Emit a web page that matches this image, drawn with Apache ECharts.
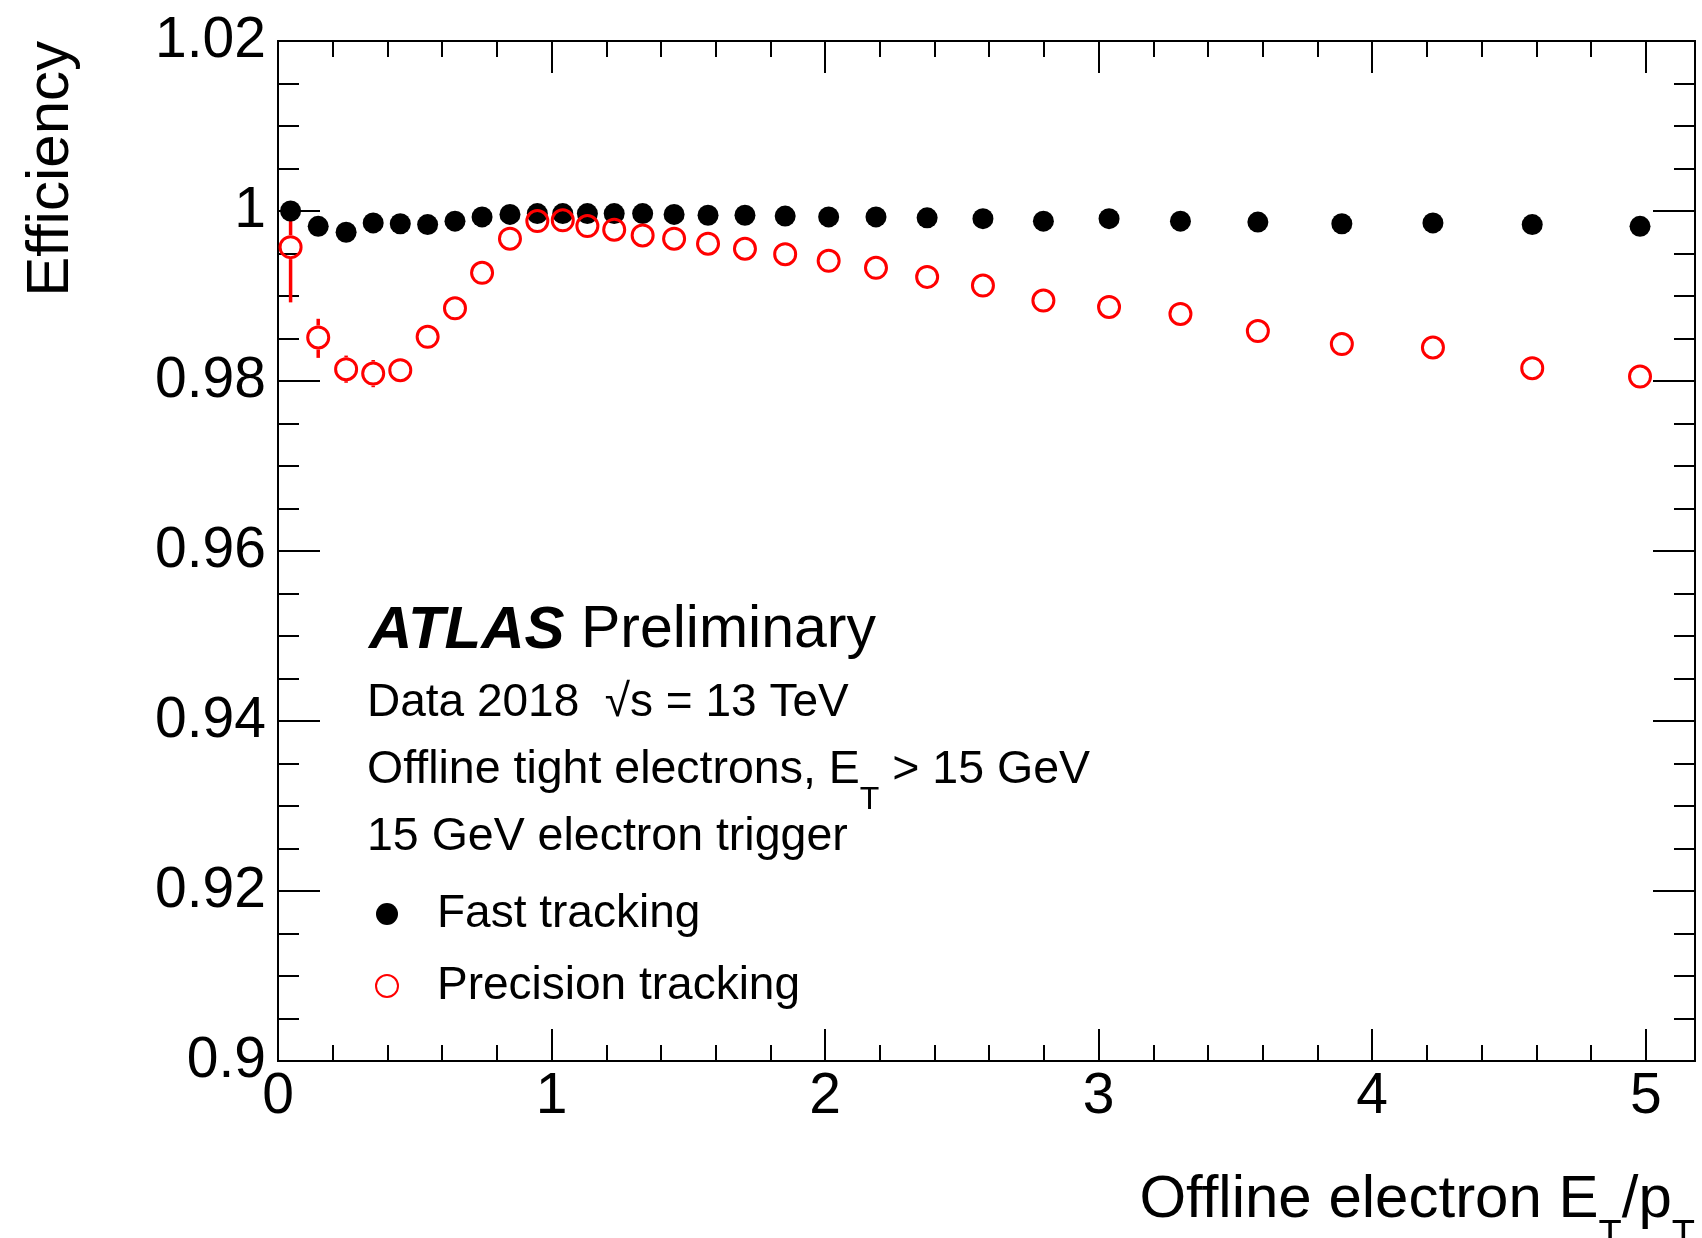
<!DOCTYPE html>
<html>
<head>
<meta charset="utf-8">
<title>ATLAS trigger tracking efficiency</title>
<script src="https://cdn.jsdelivr.net/npm/echarts@6/dist/echarts.min.js"></script>
<style>
  html, body { margin: 0; padding: 0; background: #fff; }
  #chart { width: 1702px; height: 1238px; }
</style>
</head>
<body>
<div id="chart"></div>
<script>
// offline electron ET/pT (bin positions)
var etOverPt = [0.046, 0.147, 0.249, 0.348, 0.447, 0.547, 0.647, 0.746, 0.848, 0.948,
  1.041, 1.131, 1.229, 1.333, 1.448, 1.572, 1.707, 1.854, 2.013, 2.186,
  2.373, 2.577, 2.798, 3.038, 3.299, 3.582, 3.889, 4.222, 4.585, 4.979]

// Fast tracking efficiency
var fastEff = [1.0000, 0.9982, 0.9975, 0.9986, 0.9985, 0.9984, 0.9988, 0.9993, 0.9996, 0.9997,
  0.9997, 0.9997, 0.9997, 0.9997, 0.9996, 0.9995, 0.9995, 0.9994, 0.9993, 0.9993,
  0.9992, 0.9991, 0.9988, 0.9991, 0.9988, 0.9987, 0.9985, 0.9986, 0.9984, 0.9982]

// Precision tracking efficiency
var precEff = [0.99575, 0.98512, 0.98139, 0.98087, 0.98127, 0.98520, 0.98855, 0.99273, 0.99674, 0.99882,
  0.99890, 0.99823, 0.99780, 0.99713, 0.99674, 0.99615, 0.99556, 0.99492, 0.99414, 0.99332,
  0.99225, 0.99123, 0.98946, 0.98871, 0.98789, 0.98588, 0.98435, 0.98394, 0.98151, 0.98052]

// asymmetric errors on precision tracking (up / down)
var precErrUp = [0.0031, 0.0022, 0.0016, 0.0016, 0.0010, 0.0008, 0.0007, 0.0006, 0.0005, 0.0003,
  0.0003, 0.0003, 0.0003, 0.0003, 0.0003, 0.0003, 0.0003, 0.0003, 0.0003, 0.0003,
  0.0003, 0.0003, 0.0003, 0.0003, 0.0003, 0.0003, 0.0003, 0.0003, 0.0003, 0.0003]
var precErrDown = [0.0065, 0.0024, 0.0016, 0.0016, 0.0010, 0.0008, 0.0007, 0.0006, 0.0005, 0.0003,
  0.0003, 0.0003, 0.0003, 0.0003, 0.0003, 0.0003, 0.0003, 0.0003, 0.0003, 0.0003,
  0.0003, 0.0003, 0.0003, 0.0003, 0.0003, 0.0003, 0.0003, 0.0003, 0.0003, 0.0003]

var seriesNames = ['Fast tracking', 'Precision tracking']

var FONT = 'Liberation Sans, Arial, Helvetica, sans-serif'
var MARKER = 21

var chart = echarts.init(document.getElementById('chart'))

var fastData = etOverPt.map(function (x, i) { return [x, fastEff[i]] })
var precData = etOverPt.map(function (x, i) { return [x, precEff[i]] })
var errData = etOverPt.map(function (x, i) {
  return [x, precEff[i], precEff[i] - precErrDown[i], precEff[i] + precErrUp[i]]
})

function xAxisDef(pos, interval, len, labels) {
  return {
    type: 'value',
    position: pos,
    min: 0,
    max: 5.18,
    interval: interval,
    axisLine: { show: true, onZero: false, lineStyle: { color: '#000', width: 2 } },
    axisTick: { show: true, inside: true, length: len, lineStyle: { color: '#000', width: 2 } },
    axisLabel: {
      show: labels,
      margin: 8,
      fontSize: 57,
      fontFamily: FONT,
      color: '#000',
      showMaxLabel: false,
      formatter: function (v) { return Math.abs(v - Math.round(v)) < 1e-6 ? String(Math.round(v)) : '' }
    },
    splitLine: { show: false }
  }
}

function yAxisDef(pos, labels) {
  return {
    type: 'value',
    position: pos,
    min: 0.9,
    max: 1.02,
    interval: 0.02,
    axisLine: { show: true, onZero: false, lineStyle: { color: '#000', width: 2 } },
    axisTick: { show: true, inside: true, length: 42, lineStyle: { color: '#000', width: 2 } },
    minorTick: { show: true, splitNumber: 4, length: 21, lineStyle: { color: '#000', width: 2 } },
    axisLabel: {
      show: labels,
      margin: 12,
      fontSize: 57,
      fontFamily: FONT,
      color: '#000',
      formatter: function (v) { return String(Math.round(v * 100) / 100) }
    },
    splitLine: { show: false },
    minorSplitLine: { show: false }
  }
}

chart.setOption({
  backgroundColor: '#fff',
  animation: false,
  grid: { left: 278, top: 41, width: 1417, height: 1020, containLabel: false },
  xAxis: [
    xAxisDef('bottom', 1, 32, true),
    xAxisDef('bottom', 0.2, 16, false),
    xAxisDef('top', 1, 32, false),
    xAxisDef('top', 0.2, 16, false)
  ],
  yAxis: [
    yAxisDef('left', true),
    yAxisDef('right', false)
  ],
  legend: {
    orient: 'vertical',
    left: 370,
    top: 886,
    itemWidth: 90,
    itemHeight: 22,
    itemGap: 26,
    textStyle: { fontSize: 46, fontFamily: FONT, color: '#000', lineHeight: 46 },
    data: seriesNames
  },
  graphic: [
    {
      type: 'text', x: 51, y: 41, rotation: Math.PI / 2,
      style: { text: 'Efficiency', fontSize: 60, fontFamily: FONT, fill: '#000', align: 'right', verticalAlign: 'middle' }
    },
    {
      type: 'text', x: 1695, y: 1200,
      style: {
        text: '{n|Offline electron E}{s|T}{n|/p}{s|T}',
        align: 'right', verticalAlign: 'middle', fill: '#000',
        rich: {
          n: { fontSize: 60, fontFamily: FONT, fill: '#000', lineHeight: 112, verticalAlign: 'middle' },
          s: { fontSize: 38, fontFamily: FONT, fill: '#000', lineHeight: 38, verticalAlign: 'bottom' }
        }
      }
    },
    {
      type: 'text', x: 369, y: 631,
      style: {
        text: '{b|ATLAS}{n|\u00A0Preliminary}',
        verticalAlign: 'middle', fill: '#000',
        rich: {
          b: { fontSize: 60, fontFamily: FONT, fontWeight: 'bold', fontStyle: 'italic', fill: '#000' },
          n: { fontSize: 59, fontFamily: FONT, fill: '#000' }
        }
      }
    },
    {
      type: 'text', x: 367, y: 703,
      style: { text: 'Data 2018  \u221As = 13 TeV', fontSize: 46, fontFamily: FONT, fill: '#000', verticalAlign: 'middle' }
    },
    {
      type: 'text', x: 367, y: 770,
      style: {
        text: '{n|Offline tight electrons, E}{s|T}{n| > 15 GeV}',
        verticalAlign: 'middle', fill: '#000',
        rich: {
          n: { fontSize: 46.5, fontFamily: FONT, fill: '#000', lineHeight: 92, verticalAlign: 'middle' },
          s: { fontSize: 32, fontFamily: FONT, fill: '#000', lineHeight: 32, verticalAlign: 'bottom' }
        }
      }
    },
    {
      type: 'text', x: 367, y: 837,
      style: { text: '15 GeV electron trigger', fontSize: 46.5, fontFamily: FONT, fill: '#000', verticalAlign: 'middle' }
    }
  ],
  series: [
    {
      name: 'precErr',
      type: 'custom',
      xAxisIndex: 0,
      yAxisIndex: 0,
      data: errData,
      encode: { x: 0, y: 1 },
      z: 1,
      renderItem: function (params, api) {
        var x = api.value(0)
        var c = api.coord([x, api.value(1)])
        var lo = api.coord([x, api.value(2)])
        var hi = api.coord([x, api.value(3)])
        var r = MARKER / 2 + 1.5
        var kids = []
        if (c[1] - hi[1] > r) {
          kids.push({ type: 'line', shape: { x1: c[0], y1: hi[1], x2: c[0], y2: c[1] - r }, style: { stroke: '#ff0000', lineWidth: 3.5 } })
        }
        if (lo[1] - c[1] > r) {
          kids.push({ type: 'line', shape: { x1: c[0], y1: c[1] + r, x2: c[0], y2: lo[1] }, style: { stroke: '#ff0000', lineWidth: 3.5 } })
        }
        return { type: 'group', children: kids }
      }
    },
    {
      name: seriesNames[0],
      type: 'scatter',
      xAxisIndex: 0,
      yAxisIndex: 0,
      data: fastData,
      symbol: 'circle',
      symbolSize: MARKER,
      itemStyle: { color: '#000', opacity: 1 },
      z: 2
    },
    {
      name: seriesNames[1],
      type: 'scatter',
      xAxisIndex: 0,
      yAxisIndex: 0,
      data: precData,
      symbol: 'circle',
      symbolSize: MARKER,
      itemStyle: { color: 'rgba(0,0,0,0)', borderColor: '#ff0000', borderWidth: 3, opacity: 1 },
      z: 3
    }
  ]
})
</script>
</body>
</html>
